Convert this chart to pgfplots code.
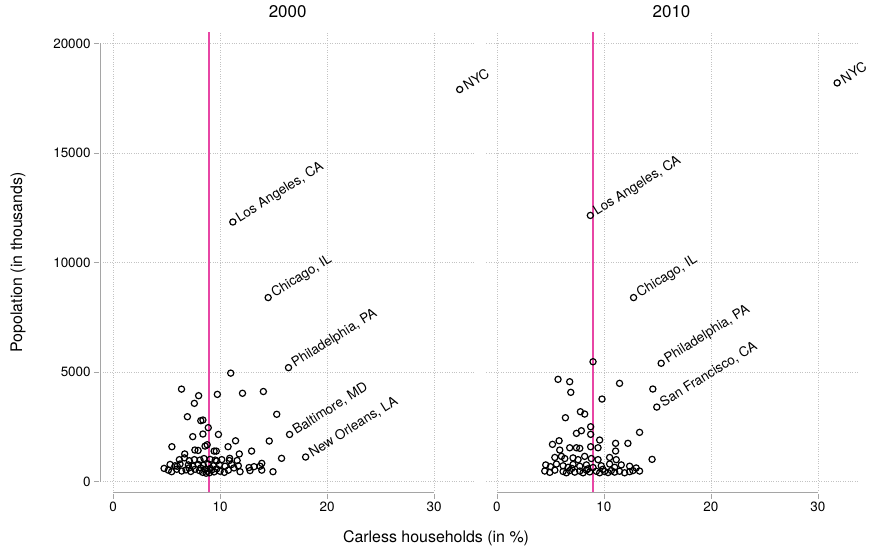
\documentclass[border=0pt]{standalone}
\usepackage{fontspec}
\setmainfont{TeX Gyre Heros}
\usepackage{pgfplots}
\pgfplotsset{compat=1.18}
\definecolor{refpink}{RGB}{232,70,165}
\definecolor{axgray}{RGB}{165,165,165}
\definecolor{gridgray}{RGB}{195,195,195}
\pgfplotsset{panel/.style={
  scale only axis, width=374.8bp, height=460.4bp,
  xmin=-1.2, xmax=33.83, ymin=-500, ymax=20520,
  xtick={0,10,20,30}, ytick={0,5000,10000,15000,20000},
  axis x line*=bottom, axis y line*=left,
  axis line style={draw=white, line width=2bp, -},
  grid=major, grid style={dotted, gridgray, line width=0.7bp},
  tick align=outside, major tick length=6bp,
  tick style={axgray, line width=0.8bp},
  ticklabel style={font=\fontsize{13.5}{14}\selectfont, text=black},
  /pgf/number format/assume math mode=true,
  /pgf/number format/1000 sep={},
  scaled ticks=false,
  clip=false,
  title style={font=\fontsize{17}{18}\selectfont, at={(axis description cs:0.5,1)}, anchor=center, yshift=14bp},
},
pts/.style={only marks, mark=o, mark size=3.1bp, mark options={line width=1.2bp, black}},
lab/.style={pts, nodes near coords, point meta=explicit symbolic,
  nodes near coords style={anchor=west, rotate=32, font=\fontsize{13.5}{14}\selectfont, inner xsep=5bp, inner ysep=1bp, text=black}},
}
\begin{document}
\begin{tikzpicture}
\path[use as bounding box] (-100.2bp,-56.5bp) rectangle (771.8bp,492.5bp);
% ---------------- 2010 (drawn first) ----------------
\begin{axis}[panel, title={2010}, at={(383.9bp,0)},
  yticklabels={}, ytick style={draw=none},
]
\addplot[color=refpink, line width=1.7bp] coordinates {(9,-500) (9,20520)};
\addplot[axgray, line width=0.9bp] coordinates {(0,-500) (30,-500)};
\addplot[pts] table {
x y
8.98 5470
5.71 4666
6.8 4557
6.9 4073
11.46 4483
14.57 4224
9.82 3767
7.8 3187
8.2 3082
6.4 2914
8.76 2502
7.43 2200
7.89 2320
8.76 2155
13.33 2246
9.6 1895
5.19 1698
5.81 1863
12.24 1744
11.09 1744
6.8 1543
7.43 1543
7.74 1516
8.76 1589
9.45 1543
5.87 1438
11.09 1393
14.5 1013
5.41 1100
6.03 1150
6.34 1050
7.11 1080
7.58 1000
8.2 1150
8.82 1050
9.45 1000
10.53 1100
11.15 1000
4.56 760
5.0 680
5.56 800
6.18 720
6.65 650
7.11 780
7.74 700
8.36 760
8.98 640
9.75 720
10.53 800
11.0 650
11.62 760
12.4 700
13.01 620
4.47 480
4.94 420
5.41 520
6.18 460
6.49 400
6.8 500
7.27 430
7.74 480
8.05 400
8.36 520
8.67 440
9.29 470
9.6 400
10.06 460
10.38 410
10.69 500
11.0 430
11.46 470
11.93 400
12.4 450
12.71 500
13.33 480
7.0 600
8.5 580
9.9 560
};
\addplot[lab] coordinates {
(31.8,18200) [NYC]
(8.73,12150) [Los Angeles, CA]
(12.77,8400) [Chicago, IL]
(15.35,5400) [Philadelphia, PA]
(14.94,3400) [San Francisco, CA]
};
\end{axis}
% ---------------- 2000 ----------------
\begin{axis}[panel, title={2000},
  xlabel={Carless households (in \%)},
  xlabel style={at={(axis description cs:0.896,-0.0988)}, anchor=center, font=\fontsize{16}{17}\selectfont},
  ylabel={Popolation (in thousands)},
  ylabel style={at={(axis description cs:-0.219,0.5)}, anchor=center, font=\fontsize{16}{17}\selectfont},
]
\addplot[color=refpink, line width=1.7bp] coordinates {(9,-500) (9,20520)};
\addplot[axgray, line width=0.9bp] coordinates {(0,-500) (30,-500)};
\addplot[axgray, line width=0.9bp] coordinates {(-1.2,0) (-1.2,20000)};
\addplot[pts] table {
x y
11.0 4950
6.4 4220
8.0 3920
9.75 3980
12.1 4030
14.05 4110
7.6 3570
15.3 3070
6.95 2960
8.2 2780
8.4 2810
8.9 2460
7.45 2050
8.4 2170
9.85 2150
11.45 1860
14.6 1850
5.5 1590
6.7 1260
7.65 1440
7.95 1420
8.6 1620
8.8 1680
9.45 1390
9.65 1390
10.75 1590
11.8 1260
12.95 1390
15.75 1060
14.95 450
10.9 1060
11.6 960
9.55 980
13.9 830
6.2 1000
6.67 1080
7.13 950
7.6 1000
8.13 980
8.5 1050
9.07 1010
9.69 940
10.16 1000
10.87 960
5.33 780
5.79 720
6.26 800
7.04 760
7.45 700
7.97 780
8.44 740
8.91 800
9.38 720
9.94 760
10.47 700
11.09 780
11.71 720
12.71 640
13.18 680
13.74 700
4.77 600
5.17 520
5.48 450
5.95 560
6.42 480
6.82 530
7.26 460
7.66 560
8.07 500
8.38 420
8.6 560
8.82 470
9.0 400
9.22 520
9.44 440
9.69 580
10.0 470
10.78 520
11.87 450
12.8 500
13.9 520
8.7 380
9.1 600
8.2 620
7.1 620
6.0 700
10.4 420
11.3 620
};
\addplot[lab] coordinates {
(32.4,17900) [NYC]
(11.2,11850) [Los Angeles, CA]
(14.5,8400) [Chicago, IL]
(16.4,5200) [Philadelphia, PA]
(16.5,2150) [Baltimore, MD]
(18.0,1120) [New Orleans, LA]
};
\end{axis}
\end{tikzpicture}
\end{document}
